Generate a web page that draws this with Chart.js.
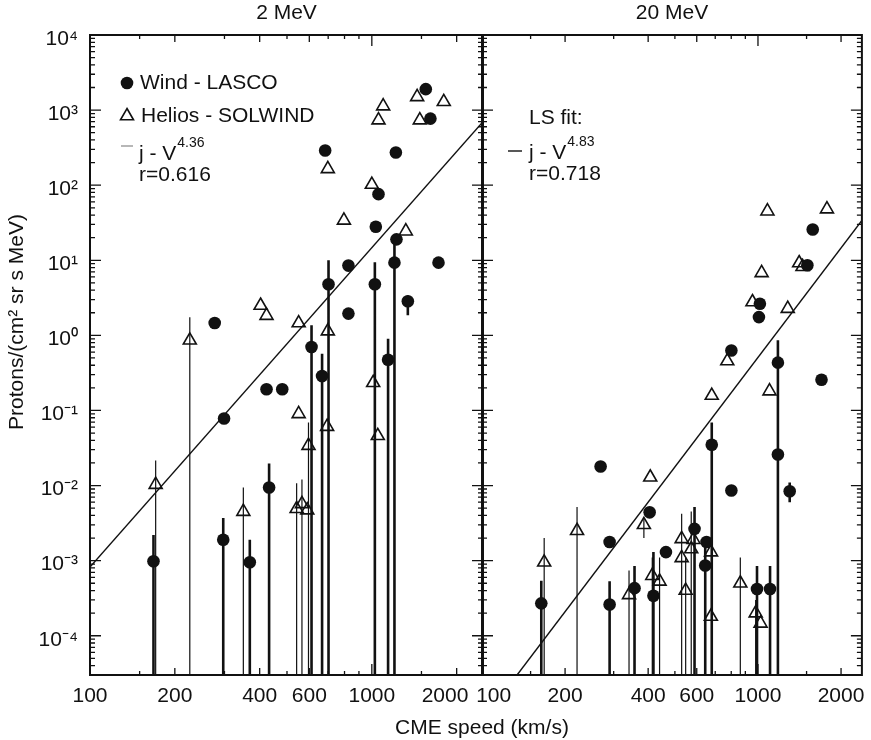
<!DOCTYPE html>
<html>
<head>
<meta charset="utf-8">
<script src="https://cdn.jsdelivr.net/npm/chart.js@4.4.1/dist/chart.umd.min.js"></script>
<style>
  html, body { margin: 0; padding: 0; background: #fff; }
  #wrap { position: relative; width: 871px; height: 740px; }
  #wrap canvas { position: absolute; left: 0; top: 0; }
</style>
</head>
<body>
<div id="wrap">
  <canvas id="panel2" width="871" height="740"></canvas>
  <canvas id="panel20" width="871" height="740"></canvas>
</div>
<script>
const FONT = "'Liberation Sans', Arial, Helvetica, sans-serif";
const INK = '#111';

// axis labels
const xTickLabels = [100, 200, 400, 600, 1000, 2000];
const yTickLabels = [1e-4, 1e-3, 1e-2, 1e-1, 1, 10, 100, 1e3, 1e4];
const xTickMarks = [150, 200, 300, 400, 500, 600, 700, 800, 900, 1000, 1500, 2000];

// ---- 2 MeV ----
const windX2 = [1554, 1614, 683, 1217, 1056, 1033, 1223, 826, 1203, 1724, 702, 1025, 1342, 826, 277, 611, 666, 1142, 423, 481, 299, 432, 297, 168, 369];
const windY2 = [1900, 770, 290, 273, 76, 28, 19, 8.5, 9.3, 9.3, 4.8, 4.8, 2.85, 1.95, 1.46, 0.70, 0.287, 0.474, 0.192, 0.192, 0.078, 0.0094, 0.0019, 0.00098, 0.00095];
const heliosX2 = [1800, 1448, 1097, 1056, 1480, 698, 1000, 796, 1320, 403, 423, 550, 698, 226, 1011, 1050, 550, 694, 596, 171, 350, 541, 565, 590];
const heliosY2 = [1290, 1500, 1130, 735, 735, 165, 102, 34, 24.4, 2.5, 1.83, 1.46, 1.14, 0.86, 0.234, 0.046, 0.090, 0.061, 0.034, 0.0103, 0.0045, 0.0049, 0.0057, 0.0047];
const windBarX2 = [611, 666, 702, 1025, 1203, 1142, 1342, 297, 369, 432, 168];
const windBarHi2 = [1.36, 0.57, 10, 9.4, 19, 0.9, 3.4, 0.0037, 0.0019, 0.0196, 0.0022];
const windBarLo2 = [3e-5, 3e-5, 3e-5, 3e-5, 3e-5, 3e-5, 1.85, 3e-5, 3e-5, 3e-5, 3e-5];
const heliosBarX2 = [226, 171, 350, 541, 565, 596];
const heliosBarHi2 = [1.74, 0.0216, 0.0094, 0.0107, 0.012, 0.069];
const heliosBarLo2 = [3e-5, 3e-5, 3e-5, 3e-5, 3e-5, 3e-5];
const fitX2 = [100, 2480];
const fitY2 = [8.2e-4, 700];

// ---- 20 MeV ----
const windX20 = [1579, 1510, 1016, 1008, 801, 1181, 1699, 680, 1181, 269, 801, 1303, 405, 589, 290, 651, 464, 644, 357, 418, 992, 1106, 164, 290];
const windY20 = [25.7, 8.6, 2.64, 1.75, 0.63, 0.433, 0.257, 0.0349, 0.0259, 0.0179, 0.0086, 0.0084, 0.0044, 0.00265, 0.00177, 0.00177, 0.0013, 0.00086, 0.00043, 0.00034, 0.00042, 0.00042, 0.00027, 0.00026];
const heliosX20 = [1082, 1778, 1031, 1410, 1450, 955, 1282, 774, 680, 1101, 407, 386, 221, 529, 584, 573, 676, 529, 168, 414, 440, 863, 341, 547, 675, 981, 1022];
const heliosY20 = [45, 48, 6.8, 9.2, 8.2, 2.78, 2.27, 0.455, 0.158, 0.181, 0.0129, 0.0030, 0.0025, 0.00195, 0.0019, 0.00143, 0.0013, 0.00109, 0.00095, 0.00063, 0.00053, 0.0005, 0.00035, 0.0004, 0.00018, 0.0002, 0.000146];
const windBarX20 = [680, 1181, 1303, 589, 644, 164, 290, 357, 418, 992, 1106];
const windBarHi20 = [0.069, 0.86, 0.011, 0.0052, 0.0015, 0.00054, 0.00053, 0.00085, 0.0013, 0.00085, 0.00085];
const windBarLo20 = [3e-5, 3e-5, 0.006, 3e-5, 3e-5, 3e-5, 3e-5, 3e-5, 3e-5, 3e-5, 3e-5];
const heliosBarX20 = [168, 221, 341, 386, 414, 440, 529, 547, 573, 863, 981];
const heliosBarHi20 = [0.002, 0.0052, 0.00074, 0.0037, 0.0011, 0.0011, 0.0042, 0.0011, 0.0045, 0.0011, 0.0003];
const heliosBarLo20 = [3e-5, 3e-5, 3e-5, 0.002, 3e-5, 3e-5, 3e-5, 3e-5, 3e-5, 3e-5, 3e-5];
const fitX20 = [134, 2380];
const fitY20 = [3.0e-5, 34];

Chart.defaults.font.family = FONT;
Chart.defaults.color = INK;

const SUP = { '-': '\u207B', '0': '\u2070', '1': '\u00B9', '2': '\u00B2', '3': '\u00B3', '4': '\u2074' };
const decadeLabel = v => '10' + String(Math.round(Math.log10(v))).split('').map(c => SUP[c]).join('');

function zip(xs, ys) { return xs.map((x, i) => ({ x, y: ys[i] })); }
function bars(xs, hi, lo) {
  const pts = [];
  xs.forEach((x, i) => pts.push({ x, y: hi[i] }, { x, y: lo[i] }, { x, y: null }));
  return pts;
}

function drawTriangle(ctx, x, y, r) {
  ctx.beginPath();
  for (let k = 0; k < 3; k++) {
    const a = k * 2 * Math.PI / 3;
    const px = x + Math.sin(a) * r, py = y - Math.cos(a) * r;
    k ? ctx.lineTo(px, py) : ctx.moveTo(px, py);
  }
  ctx.closePath();
  ctx.stroke();
}

const decor = {
  id: 'decor',
  afterDraw(chart, args, o) {
    const { ctx, chartArea: a, scales: { x, y } } = chart;
    ctx.save();
    ctx.strokeStyle = INK;
    ctx.lineWidth = 1.3;
    ctx.beginPath();
    xTickMarks.forEach(v => {
      const px = x.getPixelForValue(v);
      if (px < a.left + 1 || px > a.right - 1) return;
      const len = v === 1000 ? 11 : xTickLabels.includes(v) ? 7 : 4;
      ctx.moveTo(px, a.bottom); ctx.lineTo(px, a.bottom - len);
      ctx.moveTo(px, a.top); ctx.lineTo(px, a.top + len);
    });
    for (let k = -5; k <= 4; k++) {
      for (let m = 1; m <= 9; m++) {
        const v = m * Math.pow(10, k);
        const py = y.getPixelForValue(v);
        if (py < a.top + 1 || py > a.bottom - 1) continue;
        const len = m === 1 ? 11 : 5;
        ctx.moveTo(a.left, py); ctx.lineTo(a.left + len, py);
        ctx.moveTo(a.right, py); ctx.lineTo(a.right - len, py);
      }
    }
    ctx.stroke();
    ctx.lineWidth = 2;
    ctx.strokeRect(a.left, a.top, a.width, a.height);

    ctx.fillStyle = INK;
    ctx.textBaseline = 'middle';
    ctx.font = '21px ' + FONT;
    ctx.textAlign = 'center';
    ctx.fillText(o.title, (a.left + a.right) / 2, 13);

    ctx.textAlign = 'left';
    o.texts.forEach(t => {
      ctx.font = '21px ' + FONT;
      ctx.fillText(t.text, t.x, t.y);
      if (t.sup) {
        const w = ctx.measureText(t.text).width;
        ctx.font = '14px ' + FONT;
        ctx.fillText(t.sup, t.x + w + 1, t.y - 11);
      }
    });

    if (o.markers) {
      ctx.beginPath();
      ctx.arc(127, 83, 6.3, 0, 2 * Math.PI);
      ctx.fill();
      ctx.lineWidth = 1.6;
      drawTriangle(ctx, 127, 116, 7.5);
    }
    ctx.lineWidth = 1.4;
    ctx.strokeStyle = o.dash.color;
    ctx.beginPath();
    ctx.moveTo(o.dash.x0, o.dash.y); ctx.lineTo(o.dash.x1, o.dash.y);
    ctx.stroke();

    if (o.axisTitles) {
      ctx.font = '21px ' + FONT;
      ctx.textAlign = 'center';
      ctx.fillText('CME speed (km/s)', 482, 728);
      ctx.translate(17, 322);
      ctx.rotate(-Math.PI / 2);
      ctx.fillText('Protons/(cm\u00B2 sr s MeV)', 0, 0);
    }
    ctx.restore();
  }
};

function makePanel(id, p) {
  return new Chart(document.getElementById(id), {
    type: 'scatter',
    plugins: [decor],
    data: {
      datasets: [
        { label: 'Wind - LASCO', data: zip(p.windX, p.windY), pointStyle: 'circle', pointRadius: 6.3,
          borderWidth: 0, backgroundColor: INK, borderColor: INK, order: 0 },
        { label: 'Helios - SOLWIND', data: zip(p.heliosX, p.heliosY), pointStyle: 'triangle', pointRadius: 7.5,
          borderWidth: 1.6, borderColor: INK, backgroundColor: 'rgba(255,255,255,0)', order: 1 },
        { label: 'fit', data: zip(p.fitX, p.fitY), showLine: true, pointRadius: 0, borderWidth: 1.4,
          borderColor: INK, order: 2 },
        { label: 'Wind bars', data: bars(p.windBarX, p.windBarHi, p.windBarLo), showLine: true, spanGaps: false,
          pointRadius: 0, borderWidth: 2.6, borderColor: INK, order: 3 },
        { label: 'Helios bars', data: bars(p.heliosBarX, p.heliosBarHi, p.heliosBarLo), showLine: true, spanGaps: false,
          pointRadius: 0, borderWidth: 1.2, borderColor: INK, order: 4 }
      ]
    },
    options: {
      responsive: false,
      animation: false,
      events: [],
      layout: { padding: { left: p.padLeft, right: p.padRight, top: 35, bottom: 0 } },
      plugins: {
        legend: { display: false },
        tooltip: { enabled: false },
        decor: p.decor
      },
      scales: {
        x: {
          type: 'logarithmic', min: 100, max: p.xMax,
          grid: { display: false, drawTicks: false }, border: { display: false },
          ticks: { autoSkip: false, maxRotation: 0, padding: 9, color: INK, font: { size: 21 }, callback: p.xLabel },
          afterBuildTicks: s => { s.ticks = xTickLabels.map(v => ({ value: v })); },
          afterFit: s => { s.height = 65; s.paddingLeft = 0; s.paddingRight = 0; }
        },
        y: {
          type: 'logarithmic', min: 3e-5, max: 1e4, display: p.showY,
          grid: { display: false, drawTicks: false }, border: { display: false },
          ticks: { padding: 12, labelOffset: 4, color: INK, font: { size: 21 }, callback: v => decadeLabel(v) },
          afterBuildTicks: s => { s.ticks = yTickLabels.map(v => ({ value: v })); },
          afterFit: s => { s.width = p.showY ? 90 : 0; s.paddingTop = 0; s.paddingBottom = 0; }
        }
      }
    }
  });
}

makePanel('panel2', {
  windX: windX2, windY: windY2, heliosX: heliosX2, heliosY: heliosY2,
  windBarX: windBarX2, windBarHi: windBarHi2, windBarLo: windBarLo2,
  heliosBarX: heliosBarX2, heliosBarHi: heliosBarHi2, heliosBarLo: heliosBarLo2,
  fitX: fitX2, fitY: fitY2,
  xMax: 2480, padLeft: 0, padRight: 388, showY: true,
  xLabel: v => (v === 2000 ? '2000    ' : String(v)),
  decor: {
    title: '2 MeV',
    markers: true,
    axisTitles: true,
    dash: { x0: 121, x1: 133, y: 146, color: '#999' },
    texts: [
      { text: 'Wind - LASCO', x: 140, y: 83 },
      { text: 'Helios - SOLWIND', x: 141, y: 116 },
      { text: 'j - V', sup: '4.36', x: 139, y: 154 },
      { text: 'r=0.616', x: 139, y: 175 }
    ]
  }
});

makePanel('panel20', {
  windX: windX20, windY: windY20, heliosX: heliosX20, heliosY: heliosY20,
  windBarX: windBarX20, windBarHi: windBarHi20, windBarLo: windBarLo20,
  heliosBarX: heliosBarX20, heliosBarHi: heliosBarHi20, heliosBarLo: heliosBarLo20,
  fitX: fitX20, fitY: fitY20,
  xMax: 2380, padLeft: 482, padRight: 3, showY: false,
  xLabel: v => (v === 100 ? '    100' : String(v)),
  decor: {
    title: '20 MeV',
    markers: false,
    axisTitles: false,
    dash: { x0: 508, x1: 522, y: 151, color: INK },
    texts: [
      { text: 'LS fit:', x: 529, y: 118 },
      { text: 'j - V', sup: '4.83', x: 529, y: 153 },
      { text: 'r=0.718', x: 529, y: 174 }
    ]
  }
});
</script>
</body>
</html>
